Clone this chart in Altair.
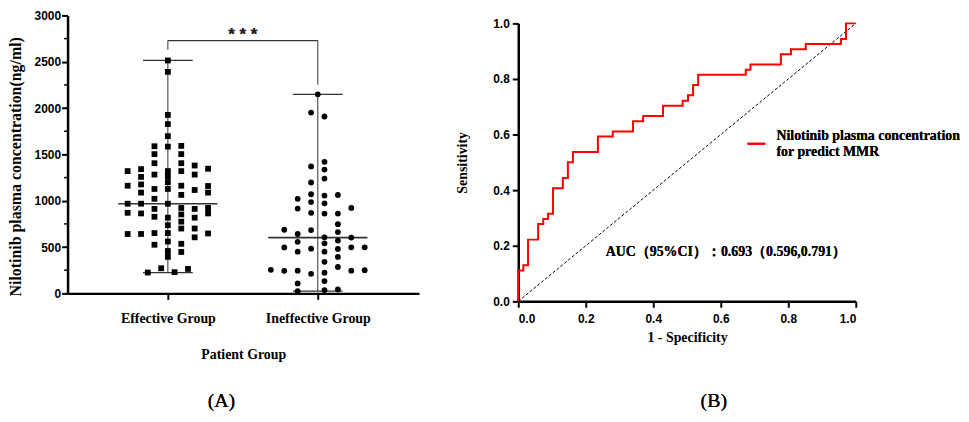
import altair as alt
import pandas as pd

SANS = "Liberation Sans"
SERIF = "Liberation Serif"

# ---- (A) Nilotinib plasma concentration (ng/ml)
# slot = column of a dot inside its group's swarm
eff_slot = ([-3] * 5 + [-2] * 7 + [-1] * 10 + [0] * 17 + [1] * 12
            + [2] * 7 + [3] * 6 + [-1.5, -0.5, 0.5, 1.5])
eff_conc = [1320, 1162, 968, 870, 641,
            1341, 1257, 1176, 1088, 968, 863, 641,
            1588, 1503, 1405, 1282, 1127, 1021, 912, 827, 651, 525,
            2514, 2391, 1926, 1827, 1697, 1584, 1320, 1260, 1200, 1127,
            968, 817, 736, 651, 560, 457, 394,
            1592, 1503, 1405, 1320, 1162, 1063, 922, 852, 774, 700, 535, 447,
            1380, 1282, 1116, 912, 817, 700, 605,
            1345, 1159, 1088, 922, 863, 647,
            225, 271, 229, 264]

ineff_slot = ([0] + [-0.5] * 9 + [0.5] * 14 + [-1.5] * 8 + [-2.5] * 3
              + [-3.5] + [1.5] * 9 + [2.5] * 4 + [3.5] * 2)
ineff_conc = [2148,
              1951, 1370, 1197, 1070, 986, 870, 683, 482, 211,
              1909, 1420, 1336, 1239, 1056, 972, 861, 605, 540, 450, 341, 224, 133, 36,
              1021, 915, 641, 556, 450, 245, 108, 24,
              687, 496, 243,
              254,
              1062, 861, 747, 662, 570, 480, 394, 285, 42,
              922, 602, 497, 245,
              497, 250]

groups = [1, 2]
group_names = ["Effective Group", "Ineffective Group"]
median = [968, 602]
low = [225, 24]
high = [2514, 2148]

minor_ticks = [250, 750, 1250, 1750, 2250, 2750]

# significance bracket: y levels of the bar and of each leg's foot
bracket_top = 2728
bracket_feet = [2630, 2253]

# ---- (B) ROC curve, step corners
fpr = [0, 0, 0.015, 0.029, 0.059, 0.074, 0.088, 0.103, 0.132, 0.147, 0.162,
       0.236, 0.280, 0.340, 0.370, 0.429, 0.487, 0.503, 0.518, 0.533, 0.674,
       0.688, 0.778, 0.808, 0.852, 0.956, 0.971, 1.0]
tpr = [0, 0.111, 0.130, 0.222, 0.278, 0.296, 0.315, 0.407, 0.444, 0.500,
       0.537, 0.593, 0.611, 0.648, 0.667, 0.704, 0.722, 0.741, 0.778, 0.815,
       0.833, 0.852, 0.889, 0.907, 0.926, 0.944, 1.0, 1.0]

SLOT = 0.0894       # swarm column width, in group units
HALF_MED = 0.331    # half length of the median bar
HALF_CAP = 0.166    # half length of the range caps

pts = pd.DataFrame({
    "grp": [1] * len(eff_conc) + [2] * len(ineff_conc),
    "slot": eff_slot + ineff_slot,
    "conc": eff_conc + ineff_conc,
    "kind": ["Effective"] * len(eff_conc) + ["Ineffective"] * len(ineff_conc),
})
stats = pd.DataFrame({"grp": groups, "median": median, "low": low, "high": high})
minor = pd.DataFrame({"conc": minor_ticks})
legs = pd.DataFrame({"grp": groups, "foot": bracket_feet, "top": bracket_top})

xs = alt.Scale(domain=[0.331, 2.675], nice=False, zero=False)
ys = alt.Scale(domain=[0, 3000], nice=False)

label_expr = "datum.value == 1 ? '%s' : '%s'" % tuple(group_names)

dots = alt.Chart(pts).transform_calculate(
    xpos="datum.grp + datum.slot * %f" % SLOT
).mark_point(filled=True, opacity=1, color="black", size=34).encode(
    x=alt.X("xpos:Q", scale=xs, title="Patient Group",
            axis=alt.Axis(values=[1, 2], labelExpr=label_expr, grid=False,
                          labelFont=SERIF, labelFontWeight="bold", labelFontSize=14,
                          labelColor="black", labelPadding=12,
                          tickSize=6, tickWidth=2, tickColor="black",
                          domainWidth=2.5, domainColor="black",
                          titleFont=SERIF, titleFontWeight="bold", titleFontSize=14,
                          titleColor="black", titleBaseline="middle", titleY=62)),
    y=alt.Y("conc:Q", scale=ys, title="Nilotinib plasma concentration(ng/ml)",
            axis=alt.Axis(values=list(range(0, 3001, 500)), format="d", grid=False,
                          labelFont=SANS, labelFontWeight="bold", labelFontSize=12,
                          labelColor="black", labelPadding=1,
                          tickSize=6, tickWidth=2, tickColor="black",
                          domainWidth=2.5, domainColor="black",
                          titleFont=SERIF, titleFontWeight="bold", titleFontSize=16,
                          titleColor="black", titleBaseline="middle",
                          titleX=-52, titleY=152)),
    shape=alt.Shape("kind:N", scale=alt.Scale(domain=["Effective", "Ineffective"],
                                              range=["square", "circle"]), legend=None),
)

line_col = "#333333"

ranges = alt.Chart(stats).mark_rule(color=line_col, strokeWidth=1).encode(
    x="grp:Q", y="low:Q", y2="high:Q")

med_bar = alt.Chart(stats).transform_calculate(
    a="datum.grp - %f" % HALF_MED, b="datum.grp + %f" % HALF_MED
).mark_rule(color=line_col, strokeWidth=1.6).encode(x="a:Q", x2="b:Q", y="median:Q")

cap_lo = alt.Chart(stats).transform_calculate(
    a="datum.grp - %f" % HALF_CAP, b="datum.grp + %f" % HALF_CAP
).mark_rule(color=line_col, strokeWidth=1.2).encode(x="a:Q", x2="b:Q", y="low:Q")

cap_hi = alt.Chart(stats).transform_calculate(
    a="datum.grp - %f" % HALF_CAP, b="datum.grp + %f" % HALF_CAP
).mark_rule(color=line_col, strokeWidth=1.2).encode(x="a:Q", x2="b:Q", y="high:Q")

minor_rule = alt.Chart(minor).mark_rule(color="black", strokeWidth=1.5).encode(
    y="conc:Q", x=alt.value(-3.5), x2=alt.value(0))

bar = alt.Chart(legs).mark_rule(color=line_col, strokeWidth=1).encode(
    x=alt.datum(groups[0]), x2=alt.datum(groups[1]), y=alt.datum(bracket_top))
leg_rules = alt.Chart(legs).mark_rule(color=line_col, strokeWidth=1).encode(
    x="grp:Q", y="top:Q", y2="foot:Q")
stars = alt.Chart(legs).mark_text(
    text="* * *", font=SANS, fontWeight="bold", fontSize=17, color="#222222",
    baseline="middle"
).encode(x=alt.datum(1.5), y=alt.datum(2790))

tag_a = alt.Chart(legs).mark_text(
    text="(A)", font=SERIF, fontSize=20, color="black", baseline="middle"
).encode(x=alt.value(155), y=alt.value(388))

left = alt.layer(ranges, med_bar, cap_lo, cap_hi, dots, minor_rule,
                 bar, leg_rules, stars, tag_a).properties(width=354, height=280)

# ---- panel B
roc = pd.DataFrame({"fpr": fpr, "tpr": tpr, "idx": list(range(len(fpr)))})
diag = pd.DataFrame({"fpr": [0, 1], "tpr": [0, 1]})

rx = alt.Scale(domain=[0, 1], nice=False)
ry = alt.Scale(domain=[0, 1], nice=False, range=[288, 8])
ticks01 = [0, 0.2, 0.4, 0.6, 0.8, 1.0]

diag_line = alt.Chart(diag).mark_line(
    color="black", strokeWidth=1, strokeDash=[3, 2]
).encode(
    x=alt.X("fpr:Q", scale=rx, title="1 - Specificity",
            axis=alt.Axis(values=ticks01, format=".1f", grid=False,
                          labelFont=SANS, labelFontWeight="bold", labelFontSize=12,
                          labelColor="black", labelPadding=6,
                          tickSize=6, tickWidth=2, tickColor="black",
                          domainWidth=2.5, domainColor="black",
                          titleFont=SERIF, titleFontWeight="bold", titleFontSize=14,
                          titleColor="black", titleBaseline="middle", titleY=36)),
    y=alt.Y("tpr:Q", scale=ry, title="Sensitivity",
            axis=alt.Axis(values=ticks01, format=".1f", grid=False,
                          labelFont=SANS, labelFontWeight="bold", labelFontSize=12,
                          labelColor="black", labelPadding=3,
                          tickSize=6, tickWidth=2, tickColor="black",
                          domainWidth=2.5, domainColor="black",
                          titleFont=SERIF, titleFontWeight="bold", titleFontSize=14,
                          titleColor="black", titleBaseline="middle", titleX=-56)),
)

roc_line = alt.Chart(roc).mark_line(
    color="#ff0000", strokeWidth=2, interpolate="step-after"
).encode(x="fpr:Q", y="tpr:Q", order="idx:Q")

key_line = alt.Chart(diag).mark_rule(color="#ff0000", strokeWidth=2).encode(
    x=alt.datum(0.679), x2=alt.datum(0.732), y=alt.datum(0.567))

text_style = dict(font=SERIF, fontWeight="bold", fontSize=14, color="black",
                  align="left", baseline="middle")
key_1 = alt.Chart(diag).mark_text(text="Nilotinib plasma concentration",
                                  **text_style).encode(x=alt.datum(0.765), y=alt.datum(0.596))
key_2 = alt.Chart(diag).mark_text(text="for predict MMR",
                                  **text_style).encode(x=alt.datum(0.765), y=alt.datum(0.536))
auc = alt.Chart(diag).mark_text(
    text="AUC（95%CI）：0.693（0.596,0.791）", **text_style
).encode(x=alt.datum(0.259), y=alt.datum(0.179))

tag_b = alt.Chart(diag).mark_text(
    text="(B)", font=SERIF, fontSize=20, color="black", baseline="middle"
).encode(x=alt.value(197), y=alt.value(388))

right = alt.layer(diag_line, roc_line, key_line, key_1, key_2, auc, tag_b).properties(
    width=340, height=288)

chart = alt.hconcat(left, right, spacing=37).properties(
    padding={"left": 0, "top": 0, "right": 0, "bottom": 0}
).configure_view(stroke=None)

chart.save("out.html", embed_options={"renderer": "svg", "actions": False})
